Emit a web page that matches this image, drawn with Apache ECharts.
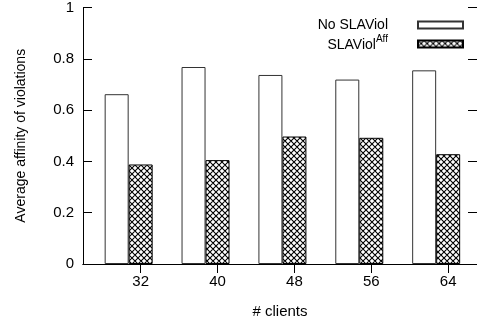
<!DOCTYPE html>
<html>
<head>
<meta charset="utf-8">
<script src="https://cdn.jsdelivr.net/npm/echarts@6/dist/echarts.min.js"></script>
<style>
html,body{margin:0;padding:0;background:#fff;}
#c{width:477px;height:324px;}
</style>
</head>
<body>
<div id="c"></div>
<script>
const clients = [32, 40, 48, 56, 64];
const noSlaViol = [0.662, 0.768, 0.737, 0.719, 0.755];
const slaViolAff = [0.388, 0.405, 0.497, 0.492, 0.428];

function hatch() {
  const s = 6;
  const c = document.createElement('canvas');
  c.width = s; c.height = s;
  const g = c.getContext('2d');
  g.fillStyle = '#fff';
  g.fillRect(0, 0, s, s);
  g.strokeStyle = '#000';
  g.lineWidth = 1.1;
  g.beginPath();
  for (let k = -2; k <= 2; k++) {
    g.moveTo(-2, -2 + k * s); g.lineTo(s + 2, s + 2 + k * s);
    g.moveTo(-2, s + 2 + k * s); g.lineTo(s + 2, -2 + k * s);
  }
  g.stroke();
  return c;
}

const font = 'Liberation Sans, Arial, Helvetica, sans-serif';
const chart = echarts.init(document.getElementById('c'), null, {renderer: 'canvas'});
const tickStyle = {color: '#000', width: 1};
chart.setOption({
  animation: false,
  backgroundColor: '#fff',
  textStyle: {fontFamily: font, color: '#000'},
  grid: {left: 83, right: -5, top: 5, bottom: 60, containLabel: false},
  legend: {
    data: ['No SLAViol', 'SLAViolAff'],
    orient: 'vertical',
    right: 13,
    top: 18,
    padding: 0,
    align: 'right',
    icon: 'rect',
    itemWidth: 45,
    itemHeight: 7,
    itemGap: 2,
    selectedMode: false,
    textStyle: {
      fontFamily: font, fontSize: 14, color: '#000', padding: [0, 25, 0, 0],
      rich: {
        b: {fontFamily: font, fontSize: 14, color: '#000', verticalAlign: 'bottom', lineHeight: 16},
        s: {fontFamily: font, fontSize: 10, color: '#000', verticalAlign: 'bottom', lineHeight: 10, padding: [0, 0, 8, 0]}
      }
    },
    formatter: function (n) { return n === 'SLAViolAff' ? '{b|SLAViol}{s|Aff}' : n; }
  },
  xAxis: [{
    type: 'value', position: 'bottom', min: 26, max: 67,
    name: '# clients', nameLocation: 'middle', nameGap: 40,
    nameTextStyle: {fontFamily: font, fontSize: 15, color: '#000'},
    axisLine: {show: true, lineStyle: {color: '#000', width: 1}},
    axisTick: {show: true, inside: true, length: 9, lineStyle: tickStyle, customValues: clients},
    axisLabel: {show: true, fontFamily: font, fontSize: 15, color: '#000', margin: 10, customValues: clients},
    splitLine: {show: false}
  }, {
    type: 'value', position: 'top', min: 26, max: 67,
    axisLine: {show: true, lineStyle: {color: '#000', width: 1}},
    axisTick: {show: true, inside: true, length: 9, lineStyle: tickStyle, customValues: clients},
    axisLabel: {show: false},
    splitLine: {show: false}
  }],
  yAxis: [{
    type: 'value', position: 'left', min: 0, max: 1, interval: 0.2,
    name: 'Average affinity of violations', nameLocation: 'middle', nameGap: 55,
    nameTextStyle: {fontFamily: font, fontSize: 14, color: '#000'},
    axisLine: {show: true, lineStyle: {color: '#000', width: 1}},
    axisTick: {show: true, inside: true, length: 9, lineStyle: tickStyle},
    axisLabel: {show: true, fontFamily: font, fontSize: 15, color: '#000', margin: 9},
    splitLine: {show: false}
  }, {
    type: 'value', position: 'right', min: 0, max: 1, interval: 0.2,
    axisLine: {show: true, lineStyle: {color: '#000', width: 1}},
    axisTick: {show: true, inside: true, length: 9, lineStyle: tickStyle},
    axisLabel: {show: false},
    splitLine: {show: false}
  }],
  series: [{
    name: 'No SLAViol', type: 'bar', xAxisIndex: 0, yAxisIndex: 0,
    barWidth: 24, barGap: '0%',
    itemStyle: {color: '#fff', borderColor: '#333', borderWidth: 1},
    data: clients.map((c, i) => [c, noSlaViol[i]])
  }, {
    name: 'SLAViolAff', type: 'bar', xAxisIndex: 0, yAxisIndex: 0,
    barWidth: 24, barGap: '0%',
    itemStyle: {color: {image: hatch(), repeat: 'repeat'}, borderColor: '#000', borderWidth: 1},
    data: clients.map((c, i) => [c, slaViolAff[i]])
  }, {
    name: 'spacer', type: 'bar', xAxisIndex: 0, yAxisIndex: 0,
    barWidth: 24, barGap: '0%', silent: true,
    data: []
  }]
});
</script>
</body>
</html>
